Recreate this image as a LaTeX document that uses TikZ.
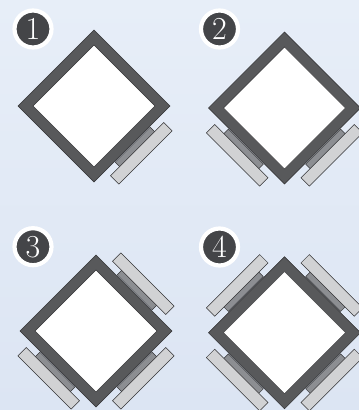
\documentclass[tikz,border=0pt]{standalone}
\definecolor{bgtop}{RGB}{231,238,248}
\definecolor{bgbot}{RGB}{220,229,243}
\definecolor{frameC}{RGB}{88,89,91}
\definecolor{edgeC}{RGB}{50,50,52}
\definecolor{midC}{RGB}{140,142,146}
\definecolor{lightC}{RGB}{209,210,212}
\definecolor{badgeC}{RGB}{68,69,72}
\tikzset{
  wingmid/.style={draw=edgeC,line width=.5pt,fill=midC},
  winglight/.style={draw=edgeC,line width=.5pt,fill=lightC},
  outerD/.style={draw=edgeC,line width=.5pt,fill=frameC},
  innerD/.style={draw=edgeC,line width=.4pt,fill=white},
  badge/.style={circle,draw=white,line width=4.2pt,fill=badgeC,text=white,
    minimum size=37pt,inner sep=0pt,font=\fontsize{32}{32}\selectfont},
  pics/wing/.style={code={
    \path[wingmid] (54.7,-24.7) rectangle (61.8,24.7);
    \path[winglight] (61,-37.7) rectangle (72.8,37.7);
  }},
  pics/frame/.style={code={
    \path[outerD] (76,0) -- (0,-76) -- (-76,0) -- (0,76) -- cycle;
    \path[innerD] (61,0) -- (0,-61) -- (-61,0) -- (0,61) -- cycle;
  }}
}
\begin{document}
\begin{tikzpicture}[x=1pt,y=-1pt]
\useasboundingbox (0,0) rectangle (359,410);
\shade[top color=bgtop,bottom color=bgbot] (0,0) rectangle (359,410);
% panel 1
\pic at (94,106) [rotate=-45] {wing};
\pic at (94,106) {frame};
\node[badge] (b1) at (33,29) {1};
% panel 2
\pic at (284.5,108) [rotate=-45] {wing};
\pic at (284.5,108) [rotate=-135] {wing};
\pic at (284.5,108) {frame};
\node[badge] (b2) at (219.5,29) {2};
% panel 3
\pic at (96,331) [rotate=45] {wing};
\pic at (96,331) [rotate=-45] {wing};
\pic at (96,331) [rotate=-135] {wing};
\pic at (96,331) {frame};
\node[badge] (b3) at (33,246.7) {3};
% panel 4
\pic at (284.5,332.7) [rotate=45] {wing};
\pic at (284.5,332.7) [rotate=135] {wing};
\pic at (284.5,332.7) [rotate=-45] {wing};
\pic at (284.5,332.7) [rotate=-135] {wing};
\pic at (284.5,332.7) {frame};
\node[badge] (b4) at (219.5,247) {4};
\end{tikzpicture}
\end{document}
